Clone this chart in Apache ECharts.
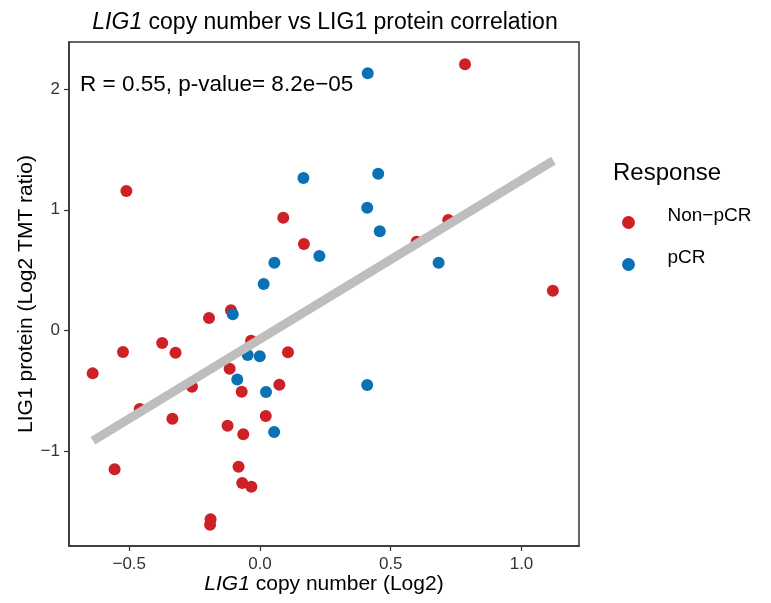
<!DOCTYPE html>
<html>
<head>
<meta charset="utf-8">
<script src="https://cdn.jsdelivr.net/npm/echarts@6/dist/echarts.min.js"></script>
<style>
  html, body { margin: 0; padding: 0; background: #ffffff; }
  #chart { width: 771px; height: 603px; }
</style>
</head>
<body>
<div id="chart"></div>
<script>
// LIG1 copy number (Log2) vs LIG1 protein (Log2 TMT ratio), per sample
const nonPcrCopy = [-0.511, 0.089, 0.168, 0.784, 0.720, 0.599, 1.120, -0.111, -0.195, -0.374,
  -0.524, -0.323, -0.640, -0.034, 0.107, -0.116, -0.260, -0.070, 0.074, -0.460,
  -0.335, 0.022, -0.124, -0.064, -0.556, -0.082, -0.068, -0.033, -0.189, -0.191];
const nonPcrProtein = [1.156, 0.935, 0.717, 2.205, 0.915, 0.736, 0.330, 0.167, 0.104, -0.104,
  -0.178, -0.184, -0.355, -0.084, -0.181, -0.316, -0.465, -0.507, -0.449, -0.650,
  -0.730, -0.708, -0.789, -0.860, -1.150, -1.128, -1.263, -1.294, -1.564, -1.609];

const pcrCopy = [0.166, 0.227, 0.055, 0.014, 0.412, 0.452, 0.410, 0.458, 0.683, 0.410,
  -0.104, -0.047, -0.001, -0.087, 0.023, 0.054];
const pcrProtein = [1.263, 0.617, 0.562, 0.385, 2.131, 1.299, 1.017, 0.822, 0.562, -0.452,
  0.134, -0.203, -0.214, -0.405, -0.510, -0.841];

// Linear fit endpoints over the observed copy-number range
const fitLine = [[-0.639, -0.913], [1.122, 1.407]];

const xTicks = [-0.5, 0, 0.5, 1.0];
const yTicks = [-1, 0, 1, 2];
const groups = ['Non\u2212pCR', 'pCR'];
const statsText = 'R = 0.55, p-value= 8.2e\u221205';

const zip = (a, b) => a.map((v, i) => [v, b[i]]);
const minusFmt = (digits) => (v) => (v < 0 ? '\u2212' : '') + Math.abs(v).toFixed(digits);

const FONT = 'Liberation Sans';
const RED = '#CE2027';
const BLUE = '#0A71B4';
const INK = '#000000';
const AXIS = '#333333';

const chart = echarts.init(document.getElementById('chart'), null, { renderer: 'canvas' });

const axisLineStyle = { show: true, onZero: false, lineStyle: { color: AXIS, width: 1.5 } };
const tickStyle = (vals) => ({ show: true, inside: false, length: 5,
  lineStyle: { color: AXIS, width: 1.2 }, customValues: vals });

chart.setOption({
  animation: false,
  backgroundColor: '#ffffff',
  textStyle: { fontFamily: FONT },
  title: {
    text: '{it|LIG1} copy number vs LIG1 protein correlation',
    left: 320,
    textAlign: 'center',
    top: 6,
    textStyle: {
      fontFamily: FONT, fontSize: 23, fontWeight: 'normal', color: INK,
      rich: { it: { fontFamily: FONT, fontSize: 23, fontStyle: 'italic', color: INK } }
    }
  },
  grid: {
    left: 69, right: 192, top: 42, bottom: 57,
    outerBoundsMode: 'none',
    containLabel: false,
    show: true, borderColor: AXIS, borderWidth: 1.5, backgroundColor: '#ffffff'
  },
  legend: {
    data: groups,
    orient: 'vertical',
    left: 617,
    top: 201,
    itemWidth: 68,
    itemHeight: 13,
    itemGap: 19,
    icon: 'circle',
    formatter: (name) => '{t|' + name + '}',
    textStyle: {
      fontFamily: FONT, fontSize: 19, color: INK,
      rich: { t: { fontFamily: FONT, fontSize: 19, color: INK, padding: [0, 0, 14, 0] } }
    }
  },
  xAxis: {
    type: 'value',
    min: -0.7304,
    max: 1.2199,
    name: '{it|LIG1} copy number (Log2)',
    nameLocation: 'middle',
    nameGap: 28,
    nameMoveOverlap: false,
    nameTextStyle: {
      fontFamily: FONT, fontSize: 21, color: INK,
      rich: { it: { fontFamily: FONT, fontSize: 21, fontStyle: 'italic', color: INK } }
    },
    splitLine: { show: false },
    axisLine: axisLineStyle,
    axisTick: tickStyle(xTicks),
    axisLabel: { fontFamily: FONT, fontSize: 17, color: AXIS, margin: 10,
      customValues: xTicks, formatter: minusFmt(1) }
  },
  yAxis: {
    type: 'value',
    min: -1.785,
    max: 2.39,
    name: 'LIG1 protein (Log2 TMT ratio)',
    nameLocation: 'middle',
    nameGap: 32,
    nameMoveOverlap: false,
    nameTextStyle: { fontFamily: FONT, fontSize: 21, color: INK },
    splitLine: { show: false },
    axisLine: axisLineStyle,
    axisTick: tickStyle(yTicks),
    axisLabel: { fontFamily: FONT, fontSize: 17, color: AXIS, margin: 9,
      customValues: yTicks, formatter: minusFmt(0) }
  },
  graphic: [
    {
      type: 'text', left: 80, top: 73, z: 10,
      style: { text: statsText, fontFamily: FONT, fontSize: 22.5, fill: INK }
    },
    {
      type: 'text', left: 613, top: 161,
      style: { text: 'Response', fontFamily: FONT, fontSize: 24, fill: INK }
    }
  ],
  series: [
    {
      name: groups[0], type: 'scatter', data: zip(nonPcrCopy, nonPcrProtein),
      symbolSize: 12, itemStyle: { color: RED, opacity: 1 }, z: 2
    },
    {
      name: groups[1], type: 'scatter', data: zip(pcrCopy, pcrProtein),
      symbolSize: 12, itemStyle: { color: BLUE, opacity: 1 }, z: 2
    },
    {
      name: 'fit', type: 'line', data: fitLine, showSymbol: false, symbol: 'none',
      lineStyle: { color: '#BEBEBE', width: 9, cap: 'butt' }, z: 3, silent: true
    }
  ]
});
</script>
</body>
</html>
